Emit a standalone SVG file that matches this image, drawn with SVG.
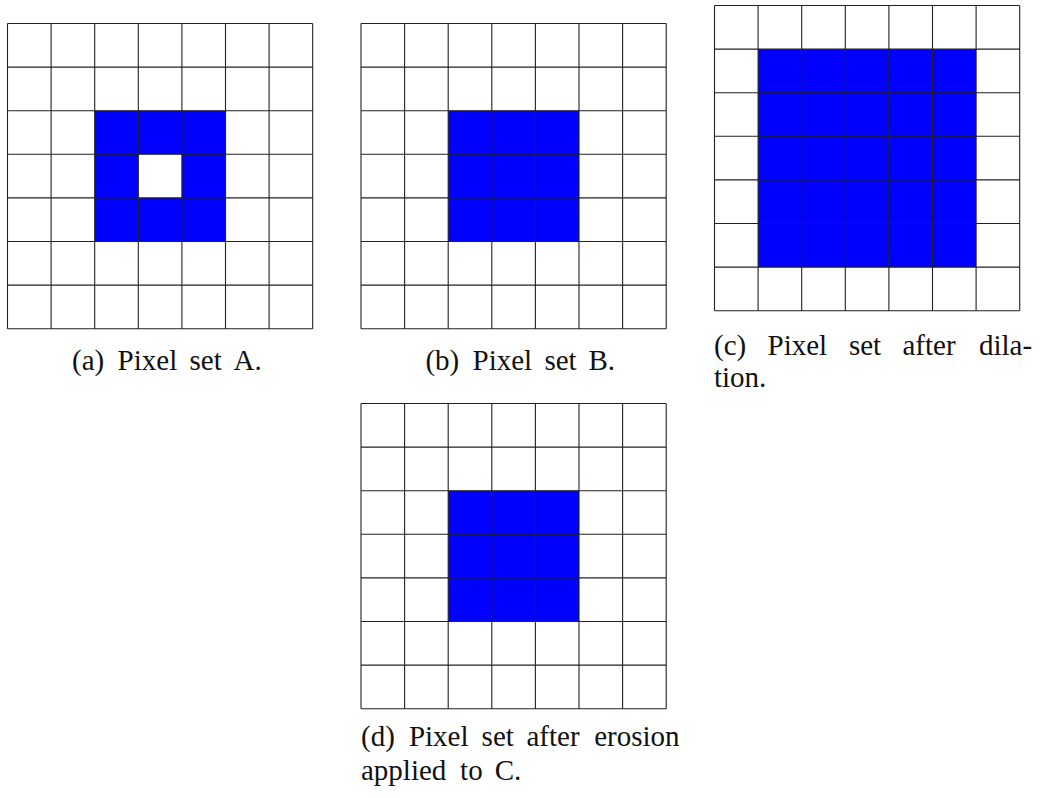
<svg xmlns="http://www.w3.org/2000/svg" xmlns:xlink="http://www.w3.org/1999/xlink" width="1042" height="798" viewBox="0 0 1042 798">
<style>
.grid{fill:none;stroke:#222;stroke-width:1.1}
.on{fill:#0000ff}
.off{fill:#ffffff}
.cap{font-family:"Liberation Serif","DejaVu Serif",serif;font-size:29px;fill:#111}
</style>
<defs>
<path id="g" class="grid" d="M0,0V305.2M43.6,0V305.2M87.2,0V305.2M130.8,0V305.2M174.4,0V305.2M218,0V305.2M261.6,0V305.2M305.2,0V305.2M0,0H305.2M0,43.6H305.2M0,87.2H305.2M0,130.8H305.2M0,174.4H305.2M0,218H305.2M0,261.6H305.2M0,305.2H305.2"/>
</defs>
<rect width="1042" height="798" fill="#fff"/>
<g id="panelA" transform="translate(7.5,23.5)">
<rect class="on" x="87.2" y="87.2" width="130.8" height="130.8"/>
<rect class="off" x="130.8" y="130.8" width="43.6" height="43.6"/>
<use xlink:href="#g"/>
</g>
<g id="panelB" transform="translate(361,23.5)">
<rect class="on" x="87.2" y="87.2" width="130.8" height="130.8"/>
<use xlink:href="#g"/>
</g>
<g id="panelC" transform="translate(714.5,5.5)">
<rect class="on" x="43.6" y="43.6" width="218" height="218"/>
<use xlink:href="#g"/>
</g>
<g id="panelD" transform="translate(361,403.5)">
<rect class="on" x="87.2" y="87.2" width="130.8" height="130.8"/>
<use xlink:href="#g"/>
</g>
<g id="captions">
<text class="cap" y="370"><tspan x="72">(a)</tspan><tspan x="117.6">Pixel</tspan><tspan x="189.5">set</tspan><tspan x="233.6">A.</tspan></text>
<text class="cap" y="370"><tspan x="425.4">(b)</tspan><tspan x="472.5">Pixel</tspan><tspan x="544.4">set</tspan><tspan x="588.5">B.</tspan></text>
<text class="cap" y="355"><tspan x="714">(c)</tspan><tspan x="767.5">Pixel</tspan><tspan x="848.9">set</tspan><tspan x="902.5">after</tspan><tspan x="978.9">dila-</tspan></text>
<text class="cap" x="714" y="387">tion.</text>
<text class="cap" y="746"><tspan x="361">(d)</tspan><tspan x="408.9">Pixel</tspan><tspan x="481.6">set</tspan><tspan x="526.5">after</tspan><tspan x="594.2">erosion</tspan></text>
<text class="cap" y="780"><tspan x="361">applied</tspan><tspan x="460.1">to</tspan><tspan x="494.7">C.</tspan></text>
</g>
</svg>
